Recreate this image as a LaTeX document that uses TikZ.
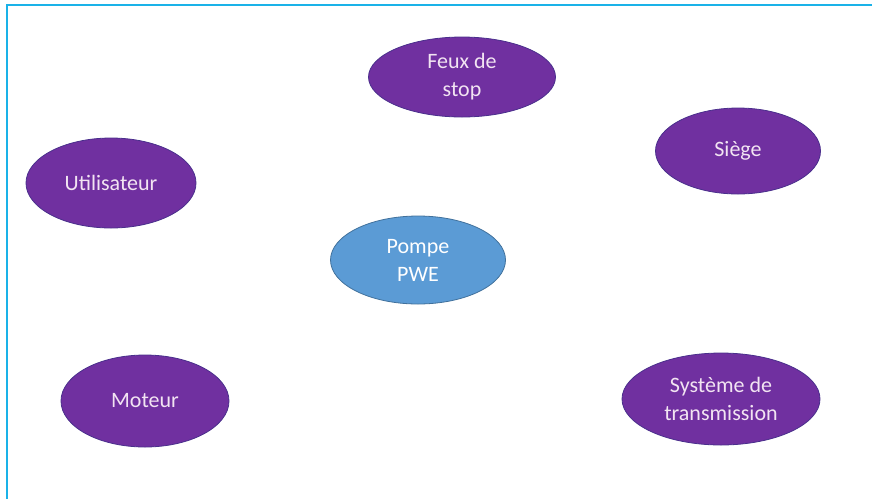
\documentclass[tikz,border=0pt]{standalone}
\usepackage{fontspec}
\setmainfont{Carlito}
\usetikzlibrary{shapes.geometric}
\definecolor{framecyan}{HTML}{1AB2E8}
\definecolor{bubblepurple}{HTML}{7030A0}
\definecolor{bubbleedge}{HTML}{4A2F8C}
\definecolor{pumpblue}{HTML}{5B9BD5}
\definecolor{pumpedge}{HTML}{41719C}
\definecolor{labelpink}{HTML}{F2E4F2}
\begin{document}
\begin{tikzpicture}[x = 1pt, y = -1pt,
    bubble/.style = {ellipse, fill = bubblepurple, draw = bubbleedge,
                     line width = .8pt, inner sep = 0pt, align = center,
                     text = labelpink, font = \fontsize{22}{28}\selectfont},
    pump/.style = {bubble, fill = pumpblue, draw = pumpedge, text = white}]
  \useasboundingbox (0,0) rectangle (872,499);
  \draw [framecyan, line width = 2pt] (872,5) -- (7,5) -- (7,499);
  \node [pump, minimum width = 175pt, minimum height = 88pt]
    (pompe) at (418,260) {Pompe\\PWE};
  \node [bubble, minimum width = 187pt, minimum height = 80pt]
    (feux) at (462,77) {Feux de\\stop};
  \node [bubble, minimum width = 165pt, minimum height = 86pt]
    (siege) at (738,151) {Siège};
  \node [bubble, minimum width = 170pt, minimum height = 90pt]
    (user) at (111,183) {Utilisateur};
  \node [bubble, minimum width = 168pt, minimum height = 92pt]
    (moteur) at (145,401) {Moteur};
  \node [bubble, minimum width = 198pt, minimum height = 92pt]
    (transm) at (721,399) {Système de\\transmission};
\end{tikzpicture}
\end{document}
